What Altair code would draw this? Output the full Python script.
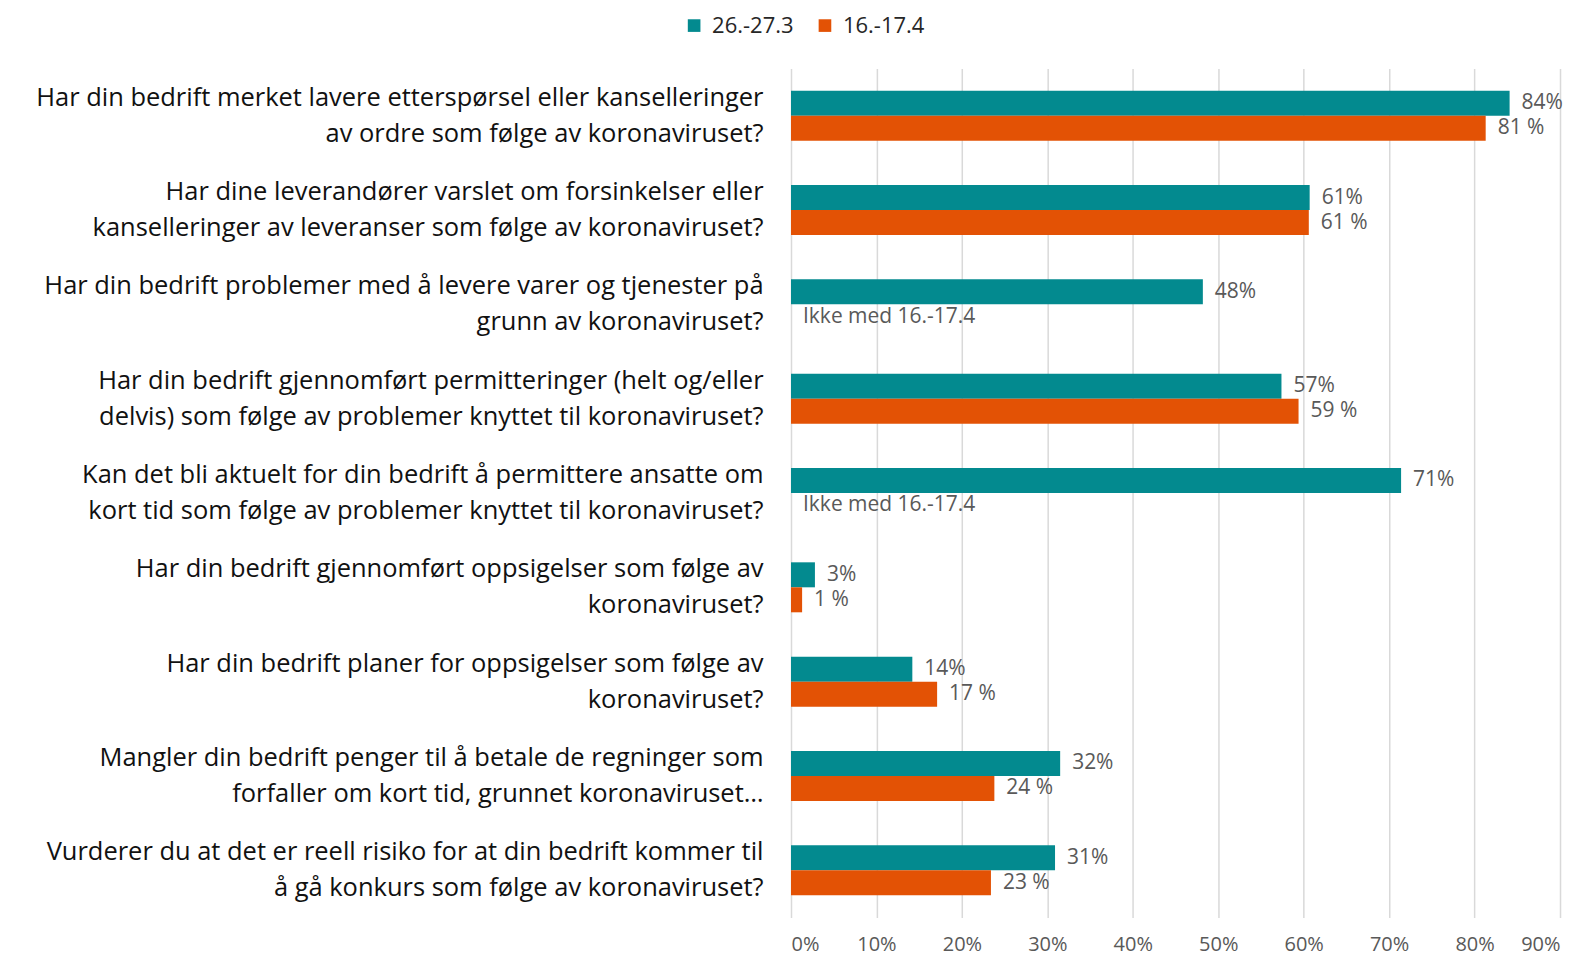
import altair as alt
import pandas as pd

questions = [
    "Har din bedrift merket lavere etterspørsel eller kanselleringer|av ordre som følge av koronaviruset?",
    "Har dine leverandører varslet om forsinkelser eller|kanselleringer av leveranser som følge av koronaviruset?",
    "Har din bedrift problemer med å levere varer og tjenester på|grunn av koronaviruset?",
    "Har din bedrift gjennomført permitteringer (helt og/eller|delvis) som følge av problemer knyttet til koronaviruset?",
    "Kan det bli aktuelt for din bedrift å permittere ansatte om|kort tid som følge av problemer knyttet til koronaviruset?",
    "Har din bedrift  gjennomført  oppsigelser som følge av|koronaviruset?",
    "Har din bedrift  planer  for oppsigelser som følge av|koronaviruset?",
    "Mangler din bedrift penger til å betale de regninger som|forfaller om kort tid, grunnet koronaviruset…",
    "Vurderer du at det er reell risiko for at din bedrift kommer til|å gå konkurs som følge av koronaviruset?",
]
series = ["26.-27.3", "16.-17.4"]
values_mar = [84.1, 60.7, 48.2, 57.4, 71.4, 2.8, 14.2, 31.5, 30.9]
values_apr = [81.3, 60.6, None, 59.4, None, 1.3, 17.1, 23.8, 23.4]
labels_mar = ["84%", "61%", "48%", "57%", "71%", "3%", "14%", "32%", "31%"]
labels_apr = ["81 %", "61 %", None, "59 %", None, "1 %", "17 %", "24 %", "23 %"]
missing_text = "Ikke med 16.-17.4"
colors = ["#038A8F", "#E35205"]
x_ticks = [0, 10, 20, 30, 40, 50, 60, 70, 80, 90]

FONT = "Open Sans"

rows = []
for q, v, l in zip(questions, values_mar, labels_mar):
    rows.append({"q": q, "s": series[0], "v": v, "lab": l, "pos": v})
for q, v, l in zip(questions, values_apr, labels_apr):
    if v is None:
        rows.append({"q": q, "s": series[1], "v": None, "lab": missing_text, "pos": 0})
    else:
        rows.append({"q": q, "s": series[1], "v": v, "lab": l, "pos": v})
df = pd.DataFrame(rows)

y_enc = alt.Y(
    "q:N",
    sort=questions,
    scale=alt.Scale(domain=questions, paddingInner=0.47, paddingOuter=0.235),
    axis=alt.Axis(
        title=None,
        labelExpr="split(datum.label, '|')",
        labelFontSize=25.5,
        labelFont=FONT,
        labelColor="#111111",
        labelPadding=28,
        labelLimit=900,
        labelLineHeight=36,
        labelOffset=-18,
        ticks=False,
        domain=False,
        grid=False,
    ),
)
yoff = alt.YOffset("s:N", sort=series, scale=alt.Scale(domain=series, paddingInner=0, paddingOuter=0))

bars = alt.Chart(df).mark_bar().encode(
    x=alt.X(
        "v:Q",
        scale=alt.Scale(domain=[0, 90], nice=False),
        axis=alt.Axis(
            title=None,
            values=x_ticks,
            labelExpr="datum.value + '%'",
            labelFontSize=20,
            labelFont=FONT,
            labelColor="#595959",
            labelPadding=17,
            grid=True,
            gridColor="#D9D9D9",
            gridWidth=1.5,
            ticks=False,
            domain=False,
        ),
    ),
    y=y_enc,
    yOffset=yoff,
    color=alt.Color(
        "s:N",
        sort=series,
        scale=alt.Scale(domain=series, range=colors),
        legend=alt.Legend(
            title=None,
            orient="none",
            legendX=-108,
            legendY=-54,
            direction="horizontal",
            symbolType="square",
            symbolSize=160,
            symbolStrokeWidth=0,
            labelFontSize=22,
            labelFont=FONT,
            labelColor="#262626",
            columnPadding=20,
            symbolOffset=0,
            labelOffset=7,
        ),
    ),
)

texts = alt.Chart(df).mark_text(
    align="left", baseline="middle", dx=12, fontSize=21, font=FONT, color="#595959"
).encode(
    x=alt.X("pos:Q"),
    y=alt.Y("q:N", sort=questions),
    yOffset=alt.YOffset("s:N", sort=series),
    text="lab:N",
)

chart = (
    alt.layer(bars, texts)
    .properties(
        width=770,
        height=850,
        autosize=alt.AutoSizeParams(type="none"),
        padding={"left": 784, "top": 60, "right": 15, "bottom": 38},
    )
    .configure_view(stroke=None)
)

chart.save("out.html", embed_options={"renderer": "svg", "actions": False})
